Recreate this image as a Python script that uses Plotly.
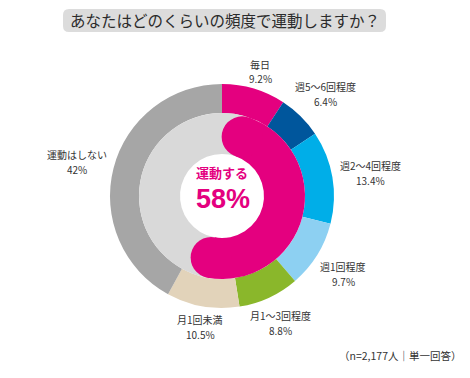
import math
import plotly.graph_objects as go

W, H = 470, 378

title = "あなたはどのくらいの頻度で運動しますか？"
categories = ["毎日", "週5～6回程度", "週2～4回程度", "週1回程度", "月1～3回程度", "月1回未満", "運動はしない"]
values = [9.2, 6.4, 13.4, 9.7, 8.8, 10.5, 42]
value_labels = ["9.2%", "6.4%", "13.4%", "9.7%", "8.8%", "10.5%", "42%"]
inner_labels = ["運動する", "運動しない"]
inner_values = [58, 42]
center_title = "運動する"
center_value = "58%"
footnote = "（n=2,177人｜単一回答）"

outer_colors = ["#e4007f", "#00569c", "#00aee8", "#8dd0f2", "#8ab72b", "#e2d3ba", "#a6a6a6"]
MAGENTA = "#e4007f"
INNER_GRAY = "#d9d9d9"
FONT = "Noto Sans CJK JP"

# geometry (pixels)
CX, CY = 222, 196
R_OUT, R_MID, R_HOLE = 112, 83, 42


def px(x):
    return x / W


def py(y):
    return 1 - y / H


def domain(r):
    return dict(x=[px(CX - r), px(CX + r)], y=[py(CY + r), py(CY - r)])


fig = go.Figure()

fig.add_trace(go.Pie(
    labels=categories, values=values, sort=False, direction="clockwise",
    rotation=0, hole=R_MID / R_OUT, domain=domain(R_OUT),
    marker=dict(colors=outer_colors, line=dict(width=0)),
    textinfo="none", hoverinfo="label+percent", showlegend=False,
))

# inner ring with rounded ends on the "運動する" arc
band = R_MID - R_HOLE
r_center = (R_MID + R_HOLE) / 2
cap_r = band / 2
total_inner = sum(inner_values)
cap_pct = (cap_r / r_center) / (2 * math.pi) * total_inner
inner_slices = [cap_pct, inner_values[0] - 2 * cap_pct, inner_values[1] + cap_pct]
fig.add_trace(go.Pie(
    labels=["_cap", inner_labels[0], inner_labels[1]], values=inner_slices, sort=False,
    direction="clockwise", rotation=0, hole=R_HOLE / R_MID, domain=domain(R_MID),
    marker=dict(colors=[INNER_GRAY, MAGENTA, INNER_GRAY], line=dict(width=0)),
    textinfo="none", hoverinfo="skip", showlegend=False,
))

shapes = []
for frac in [cap_pct / total_inner, (inner_values[0] - cap_pct) / total_inner]:
    th = frac * 2 * math.pi
    cx = CX + r_center * math.sin(th)
    cy = CY - r_center * math.cos(th)
    shapes.append(dict(type="circle", xref="paper", yref="paper", layer="above",
                       x0=px(cx - cap_r), x1=px(cx + cap_r), y0=py(cy + cap_r), y1=py(cy - cap_r),
                       fillcolor=MAGENTA, line=dict(width=0)))

# title rounded box
bx0, bx1, by0, by1, rr = 63, 386, 9, 32, 6
path = (f"M {px(bx0+rr)} {py(by0)} L {px(bx1-rr)} {py(by0)} Q {px(bx1)} {py(by0)} {px(bx1)} {py(by0+rr)} "
        f"L {px(bx1)} {py(by1-rr)} Q {px(bx1)} {py(by1)} {px(bx1-rr)} {py(by1)} "
        f"L {px(bx0+rr)} {py(by1)} Q {px(bx0)} {py(by1)} {px(bx0)} {py(by1-rr)} "
        f"L {px(bx0)} {py(by0+rr)} Q {px(bx0)} {py(by0)} {px(bx0+rr)} {py(by0)} Z")
shapes.append(dict(type="path", xref="paper", yref="paper", path=path,
                   fillcolor="#dcdcdc", line=dict(width=0), layer="below"))

annotations = []
annotations.append(dict(text=title, x=px(225), y=py(20.5), xref="paper", yref="paper",
                        showarrow=False, xanchor="center", yanchor="middle",
                        font=dict(family=FONT, size=15.5, color="#2b2b2b")))

label_pos = [(260, 64.5), (325, 86.5), (370, 165.5), (343, 266.5), (280, 315.5), (200, 319.5), (77, 154.5)]
for cat, vl, (lx, ly) in zip(categories, value_labels, label_pos):
    annotations.append(dict(text=cat, x=px(lx), y=py(ly), xref="paper", yref="paper",
                            showarrow=False, xanchor="center", yanchor="middle",
                            font=dict(family=FONT, size=10, color="#333333")))
    annotations.append(dict(text=vl, x=px(lx), y=py(ly + 14.5), xref="paper", yref="paper",
                            showarrow=False, xanchor="center", yanchor="middle",
                            font=dict(family=FONT, size=10, color="#333333")))

annotations.append(dict(text=f"<b>{center_title}</b>", x=px(222), y=py(172), xref="paper", yref="paper",
                        showarrow=False, xanchor="center", yanchor="middle",
                        font=dict(family=FONT, size=13, color=MAGENTA)))
annotations.append(dict(text=f"<b>{center_value}</b>", x=px(223), y=py(199), xref="paper", yref="paper",
                        showarrow=False, xanchor="center", yanchor="middle",
                        font=dict(family="Liberation Sans", size=27, color=MAGENTA)))
annotations.append(dict(text=footnote, x=px(463), y=py(355), xref="paper", yref="paper",
                        showarrow=False, xanchor="right", yanchor="middle",
                        font=dict(family=FONT, size=10.5, color="#333333")))

fig.update_layout(width=W, height=H, margin=dict(l=0, r=0, t=0, b=0),
                  paper_bgcolor="white", plot_bgcolor="white",
                  shapes=shapes, annotations=annotations, showlegend=False)

fig.write_html("out.html", config={"displayModeBar": False},
               post_script="document.body.style.margin='0';document.body.style.padding='0';")
